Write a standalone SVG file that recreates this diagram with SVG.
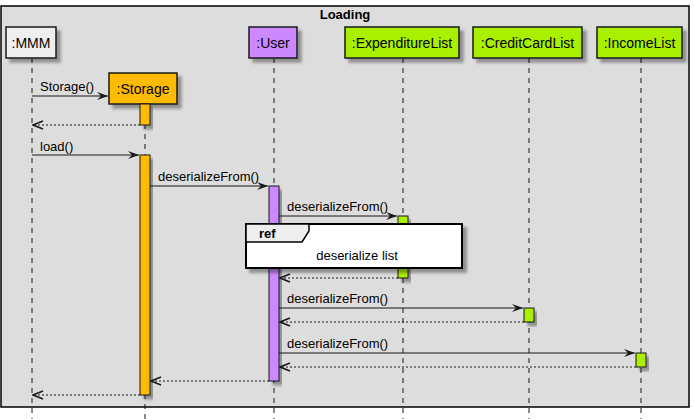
<svg xmlns="http://www.w3.org/2000/svg" width="694" height="419" viewBox="0 0 694 419">
<defs>
<filter id="sh" x="-20%" y="-20%" width="150%" height="150%">
<feGaussianBlur in="SourceAlpha" stdDeviation="1.5"/>
<feOffset dx="4" dy="4" result="o"/>
<feFlood flood-color="#000" flood-opacity="0.35"/>
<feComposite in2="o" operator="in"/>
<feMerge><feMergeNode/><feMergeNode in="SourceGraphic"/></feMerge>
</filter>
<marker id="af" viewBox="0 0 12 10" refX="11" refY="5" markerWidth="12" markerHeight="10" markerUnits="userSpaceOnUse" orient="auto">
<polygon points="0,1 11,5 0,9 4,5" fill="#181818"/>
</marker>
<marker id="ao" viewBox="0 0 12 10" refX="11" refY="5" markerWidth="12" markerHeight="10" markerUnits="userSpaceOnUse" orient="auto">
<polyline points="1,1 11,5 1,9" fill="none" stroke="#181818" stroke-width="1.5"/>
</marker>
</defs>
<style>
text{font-family:"Liberation Sans",Arial,sans-serif;fill:#000}
.p{font-size:14px}
.m{font-size:13px}
.life{stroke:#181818;stroke-width:1;stroke-dasharray:5,5}
.box{stroke:#181818;stroke-width:1.5;filter:url(#sh)}
.act{stroke:#181818;stroke-width:1;filter:url(#sh)}
.msg{stroke:#181818;stroke-width:1;fill:none}
.sync{marker-end:url(#af)}
.ret{stroke-dasharray:2,2;marker-end:url(#ao)}
.gr{fill:#AAEE00}
</style>
<rect width="694" height="419" fill="#FFFFFF"/>
<g id="frame">
<rect x="1" y="6" width="688" height="401" fill="#DDDDDD" stroke="#000" stroke-width="1.5"/>
<text x="345" y="19" text-anchor="middle" font-size="13" font-weight="bold">Loading</text>
</g>
<g id="lifelines">
<line class="life" x1="32" y1="58" x2="32" y2="419"/>
<line class="life" x1="145" y1="104" x2="145" y2="419"/>
<line class="life" x1="274" y1="58" x2="274" y2="419"/>
<line class="life" x1="403" y1="58" x2="403" y2="419"/>
<line class="life" x1="529" y1="58" x2="529" y2="419"/>
<line class="life" x1="641" y1="58" x2="641" y2="419"/>
</g>
<g id="MMM">
<rect class="box" x="6" y="27" width="50" height="31" fill="#EEEEEE"/>
<text class="p" x="31" y="47.5" text-anchor="middle">:MMM</text>
</g>
<g id="User">
<rect class="box" x="249" y="27" width="48" height="31" fill="#CC88FF"/>
<text class="p" x="273" y="47.5" text-anchor="middle">:User</text>
</g>
<g id="ExpenditureList">
<rect class="box gr" x="345" y="27" width="114" height="31"/>
<text class="p" x="402" y="47.5" text-anchor="middle">:ExpenditureList</text>
</g>
<g id="CreditCardList">
<rect class="box gr" x="473" y="27" width="109" height="31"/>
<text class="p" x="527.5" y="47.5" text-anchor="middle">:CreditCardList</text>
</g>
<g id="IncomeList">
<rect class="box gr" x="597" y="27" width="85" height="31"/>
<text class="p" x="639.5" y="47.5" text-anchor="middle">:IncomeList</text>
</g>
<g id="Storage">
<rect class="box" x="109" y="73" width="68" height="31" fill="#FFBB00"/>
<text class="p" x="143" y="93.5" text-anchor="middle">:Storage</text>
</g>
<g id="activations">
<rect class="act" x="140" y="104" width="10" height="21" fill="#FFBB00"/>
<rect class="act" x="140" y="155" width="10" height="240" fill="#FFBB00"/>
<rect class="act" x="269" y="186" width="10" height="195" fill="#CC88FF"/>
<rect class="act gr" x="398" y="216" width="10" height="62"/>
<rect class="act gr" x="524" y="308" width="10" height="14"/>
<rect class="act gr" x="636" y="353" width="10" height="14"/>
</g>
<g id="connectors">
<line class="msg sync" x1="32" y1="96" x2="108" y2="96"/>
<text class="m" x="40" y="91">Storage()</text>
<line class="msg ret" x1="140" y1="125" x2="33" y2="125"/>
<line class="msg sync" x1="32" y1="155" x2="139" y2="155"/>
<text class="m" x="40" y="151">load()</text>
<line class="msg sync" x1="150" y1="186" x2="268" y2="186"/>
<text class="m" x="158" y="181">deserializeFrom()</text>
<line class="msg sync" x1="279" y1="216" x2="397" y2="216"/>
<text class="m" x="287" y="211">deserializeFrom()</text>
<line class="msg ret" x1="398" y1="278" x2="280" y2="278"/>
<line class="msg sync" x1="279" y1="308" x2="523" y2="308"/>
<text class="m" x="287" y="303">deserializeFrom()</text>
<line class="msg ret" x1="524" y1="322" x2="280" y2="322"/>
<line class="msg sync" x1="279" y1="353" x2="635" y2="353"/>
<text class="m" x="287" y="348">deserializeFrom()</text>
<line class="msg ret" x1="636" y1="367" x2="280" y2="367"/>
<line class="msg ret" x1="269" y1="381" x2="151" y2="381"/>
<line class="msg ret" x1="140" y1="395" x2="33" y2="395"/>
</g>
<g id="ref">
<rect x="246" y="224" width="216" height="44" fill="#FFFFFF" stroke="#000" stroke-width="2" filter="url(#sh)"/>
<polygon points="246,224 309,224 309,231 302,242 246,242" fill="#EEEEEE" stroke="#000" stroke-width="1.5"/>
<text x="259" y="238" font-size="13" font-weight="bold">ref</text>
<text class="m" x="357" y="260" text-anchor="middle">deserialize list</text>
</g>
</svg>
